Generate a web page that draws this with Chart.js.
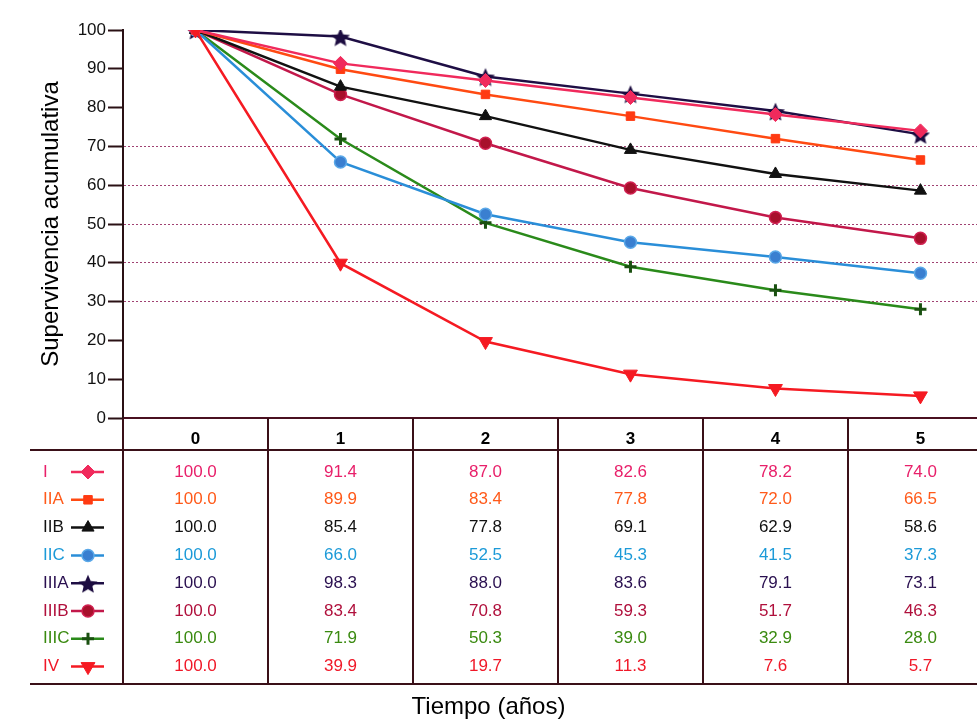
<!doctype html>
<html>

<head>
  <title>Supervivencia acumulativa</title>
  <script src="https://cdn.jsdelivr.net/npm/chart.js@4.4.0/dist/chart.umd.min.js"></script>
  <style>
    body {
      margin: 0;
      background: #fff;
    }
  </style>
</head>

<body>
  <canvas id="myChart" width="977" height="724"></canvas>

  <script>
    var years = [0, 1, 2, 3, 4, 5];
    var stages = ['I', 'IIA', 'IIB', 'IIC', 'IIIA', 'IIIB', 'IIIC', 'IV'];
    var stageI = [100.0, 91.4, 87.0, 82.6, 78.2, 74.0];
    var stageIIA = [100.0, 89.9, 83.4, 77.8, 72.0, 66.5];
    var stageIIB = [100.0, 85.4, 77.8, 69.1, 62.9, 58.6];
    var stageIIC = [100.0, 66.0, 52.5, 45.3, 41.5, 37.3];
    var stageIIIA = [100.0, 98.3, 88.0, 83.6, 79.1, 73.1];
    var stageIIIB = [100.0, 83.4, 70.8, 59.3, 51.7, 46.3];
    var stageIIIC = [100.0, 71.9, 50.3, 39.0, 32.9, 28.0];
    var stageIV = [100.0, 39.9, 19.7, 11.3, 7.6, 5.7];
    var yTicks = [0, 10, 20, 30, 40, 50, 60, 70, 80, 90, 100];

    var FONT = "'Liberation Sans', Arial, sans-serif";

    function makeStar(size, color) {
      var c = document.createElement('canvas');
      c.width = c.height = size;
      var g = c.getContext('2d');
      g.fillStyle = color;
      g.beginPath();
      for (var k = 0; k < 10; k++) {
        var rr = k % 2 ? size * 0.23 : size * 0.5;
        var a = -Math.PI / 2 + k * Math.PI / 5;
        g.lineTo(size / 2 + rr * Math.cos(a), size / 2 + 1.5 + rr * Math.sin(a));
      }
      g.closePath();
      g.fill();
      return c;
    }
    var star = makeStar(20, '#1c0c40');

    function serie(label, values, color, text, style, radius, fill, border, bw) {
      return {
        label: label,
        data: years.map(function(y, i) { return {x: y, y: values[i]}; }),
        borderColor: color,
        borderWidth: 2.5,
        pointStyle: style,
        pointRadius: radius,
        pointHoverRadius: radius,
        pointBackgroundColor: fill,
        pointBorderColor: border,
        pointBorderWidth: bw,
        textColor: text
      };
    }

    var datasets = [
      serie(stages[0], stageI, '#f02a5c', '#e8206a', 'rectRot', 7, '#f02a5c', '#f02a5c', 1),
      serie(stages[1], stageIIA, '#ff4a12', '#ff5a1a', 'rect', 6, '#ff3a12', '#ff3a12', 1),
      serie(stages[2], stageIIB, '#111111', '#111111', 'triangle', 7, '#111111', '#111111', 1),
      serie(stages[3], stageIIC, '#2a8ed8', '#1c9ad8', 'circle', 6, '#3a7fd0', '#5aa8e8', 1.5),
      serie(stages[4], stageIIIA, '#1e0e44', '#2a1050', star, 8, '#1c0c40', '#1c0c40', 1),
      serie(stages[5], stageIIIB, '#c2184a', '#b0103c', 'circle', 6, '#a8102c', '#d02050', 1.5),
      serie(stages[6], stageIIIC, '#2a8a1a', '#3a8a10', 'cross', 6, '#1a5010', '#1a5010', 3),
      serie(stages[7], stageIV, '#f51a22', '#f01828', 'triangle', 8, '#f51a22', '#f51a22', 1)
    ];
    datasets[7].pointRotation = 180;
    datasets[7].order = -1;

    var tablePlugin = {
      id: 'tabla',
      afterDraw: function(chart) {
        var ctx = chart.ctx;
        var x = chart.scales.x;
        var top = chart.chartArea.bottom;
        var headY = top + 32;
        var bottom = top + 266;
        var right = chart.width;
        var i;

        ctx.save();
        ctx.strokeStyle = '#3a1018';
        ctx.lineWidth = 2;
        [headY, bottom].forEach(function(y) {
          ctx.beginPath();
          ctx.moveTo(30, y);
          ctx.lineTo(right, y);
          ctx.stroke();
        });
        for (i = 0; i < years.length; i++) {
          var bx = Math.round(x.getPixelForValue(years[i] - 0.5));
          ctx.beginPath();
          ctx.moveTo(bx, top);
          ctx.lineTo(bx, bottom);
          ctx.stroke();
        }

        ctx.font = '17px ' + FONT;
        ctx.textBaseline = 'middle';
        chart.data.datasets.forEach(function(ds, r) {
          var y = headY + 22 + r * 27.8;
          ctx.fillStyle = ds.textColor;
          ctx.textAlign = 'left';
          ctx.fillText(ds.label, 43, y);

          ctx.strokeStyle = ds.borderColor;
          ctx.lineWidth = 2.5;
          ctx.beginPath();
          ctx.moveTo(71, y);
          ctx.lineTo(104, y);
          ctx.stroke();
          ctx.fillStyle = ds.pointBackgroundColor;
          ctx.strokeStyle = ds.pointBorderColor;
          ctx.lineWidth = ds.pointBorderWidth;
          Chart.helpers.drawPoint(ctx, {
            pointStyle: ds.pointStyle,
            radius: ds.pointRadius,
            borderWidth: ds.pointBorderWidth,
            rotation: ds.pointRotation || 0
          }, 88, y);

          ctx.fillStyle = ds.textColor;
          ctx.textAlign = 'center';
          ds.data.forEach(function(p) {
            ctx.fillText(p.y.toFixed(1), x.getPixelForValue(p.x), y);
          });
        });
        ctx.restore();
      }
    };

    var config = {
      type: 'line',
      data: {
        datasets: datasets
      },
      options: {
        responsive: false,
        animation: false,
        layout: {
          autoPadding: false,
          padding: {top: 30, left: 0, right: 0, bottom: 0}
        },
        elements: {
          line: {tension: 0}
        },
        scales: {
          x: {
            type: 'linear',
            min: -0.5,
            max: 5.39,
            afterBuildTicks: function(scale) {
              scale.ticks = years.map(function(v) { return {value: v}; });
            },
            afterFit: function(scale) {
              scale.height = 273.2;
            },
            grid: {display: false, drawTicks: false},
            border: {display: true, color: '#4a1020', width: 2},
            ticks: {
              padding: 11,
              color: '#000',
              font: {family: FONT, size: 17, weight: 'bold'}
            }
          },
          y: {
            min: 0,
            max: 100,
            afterBuildTicks: function(scale) {
              scale.ticks = yTicks.map(function(v) { return {value: v}; });
            },
            afterFit: function(scale) {
              scale.width = 123;
            },
            grid: {
              color: function(c) {
                var v = c.tick && c.tick.value;
                return v >= 30 && v <= 70 ? '#a04272' : 'rgba(0,0,0,0)';
              },
              lineWidth: 1,
              tickLength: 15,
              tickWidth: 2,
              tickColor: '#2a1014'
            },
            border: {display: true, color: '#2a1014', width: 2, dash: [2, 2]},
            ticks: {
              padding: 2,
              color: '#111',
              font: {family: FONT, size: 17}
            },
            title: {
              display: true,
              text: 'Supervivencia acumulativa',
              color: '#000',
              padding: {top: 37, bottom: 0},
              font: {family: FONT, size: 24}
            }
          }
        },
        plugins: {
          legend: {display: false},
          tooltip: {enabled: false},
          title: {
            display: true,
            position: 'bottom',
            text: 'Tiempo (años)',
            color: '#000',
            padding: {top: 2, bottom: 2},
            font: {family: FONT, size: 24, weight: 'normal'}
          }
        }
      },
      plugins: [tablePlugin]
    };

    window.onload = function() {
      var ctx = document.getElementById('myChart').getContext('2d');
      window.myChart = new Chart(ctx, config);
    };
  </script>
</body>

</html>
